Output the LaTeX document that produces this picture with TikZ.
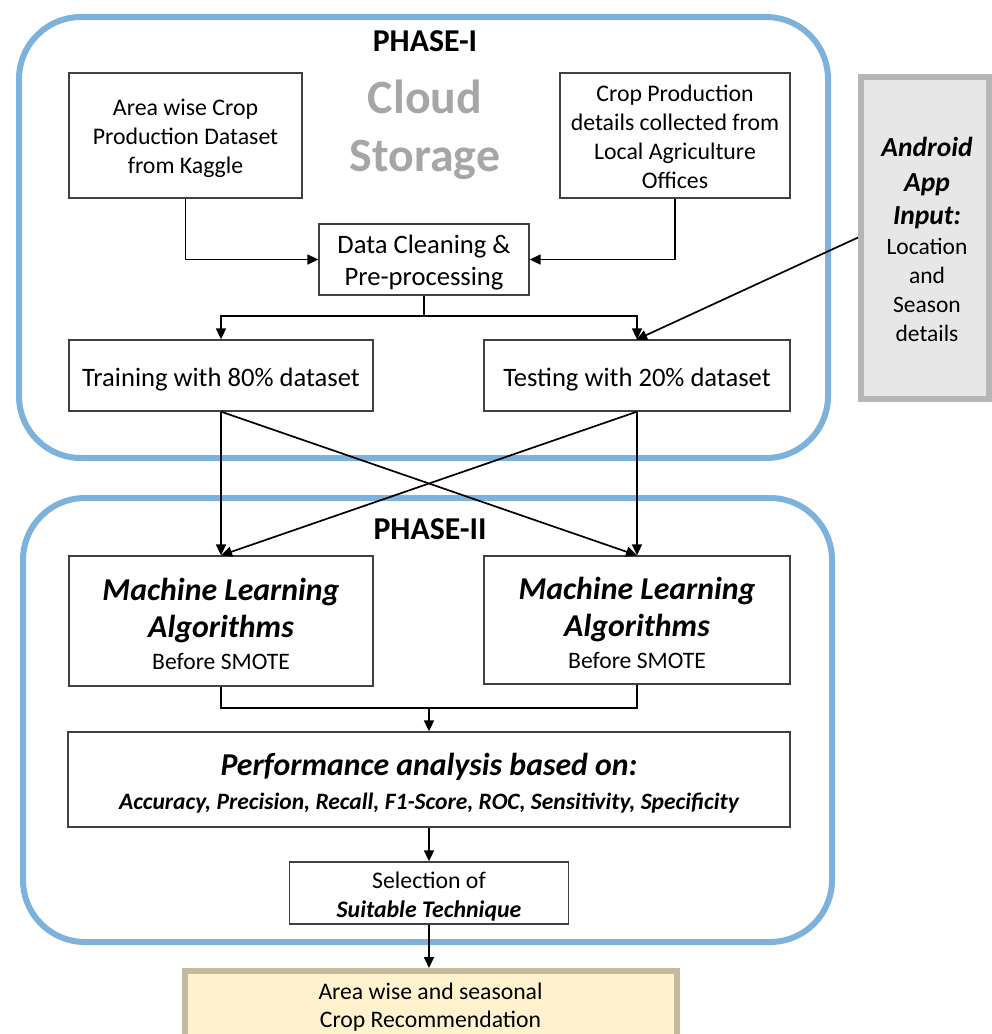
\documentclass[tikz,border=0pt]{standalone}
\usepackage{fontspec}
\setmainfont{Carlito}
\usetikzlibrary{arrows.meta}
\definecolor{phaseblue}{RGB}{124,178,220}
\definecolor{cloudgray}{RGB}{166,166,166}
\definecolor{boxline}{RGB}{64,64,64}
\definecolor{andfill}{RGB}{231,231,231}
\definecolor{andline}{RGB}{182,182,182}
\definecolor{recfill}{RGB}{255,242,204}
\definecolor{recline}{RGB}{196,186,160}
\newcommand{\fs}[2]{\fontsize{#1}{#2}\selectfont}
\newcommand{\bi}{\fs{27.5}{34}\bfseries\itshape}
\tikzset{
  box/.style={draw=boxline, line width=1.3pt, rectangle, inner sep=0pt},
  txt/.style={align=center, inner sep=0pt, text=black},
  arr/.style={line width=1.7pt, -{Triangle[length=11pt,width=10pt]}},
  ln/.style={line width=1.7pt},
  phase/.style={draw=phaseblue, line width=6pt, rounded corners=62pt},
}
\begin{document}
\begin{tikzpicture}[x=1pt,y=-1pt]
\clip (0,0) rectangle (992,1034);
\useasboundingbox (0,0) rectangle (992,1034);
% phases
\draw[phase] (19,17) rectangle (828,458);
\draw[phase] (23,498) rectangle (832,942);
\node[font=\fs{31.8}{36}\bfseries] (ph1) at (425,41) {PHASE-I};
\node[font=\fs{31.8}{36}\bfseries] (ph2) at (430,529) {PHASE-II};
\node[txt, font=\fs{47.8}{58}\bfseries, text=cloudgray] (cloud) at (425,130) {Cloud\\Storage};
% boxes
\node[box, minimum width=233pt, minimum height=125pt] (A) at (185.5,135.5) {};
\node[txt, font=\fs{23.8}{29}, yshift=-3pt] (At) at (A.center) {Area wise Crop\\Production Dataset\\from Kaggle};
\node[box, minimum width=230pt, minimum height=125pt] (B) at (675,135.5) {};
\node[txt, font=\fs{23.8}{29}, yshift=-1pt] (Bt) at (B.center) {Crop Production\\details collected from\\Local Agriculture\\Offices};
\node[box, minimum width=210pt, minimum height=71pt] (C) at (424,259.5) {};
\node[txt, font=\fs{26.6}{32}, yshift=-3pt] (Ct) at (C.center) {Data Cleaning \&\\Pre-processing};
\node[box, minimum width=304pt, minimum height=71pt] (TR) at (221,375.5) {};
\node[txt, font=\fs{26.6}{30}, yshift=-4pt] (TRt) at (TR.center) {Training with 80\% dataset};
\node[box, minimum width=306pt, minimum height=71pt] (TE) at (637,375.5) {};
\node[txt, font=\fs{26.6}{30}, yshift=-4pt] (TEt) at (TE.center) {Testing with 20\% dataset};
% android
\node[draw=andline, fill=andfill, line width=6pt, rectangle, minimum width=128pt, minimum height=322pt, inner sep=0pt] (AN) at (925,237.5) {};
\node[txt, font=\fs{23.5}{29}] (ANt) at (927,239.5) {\bi Android\\[6pt]\bi App\\[4pt]\bi Input:\\[1pt]Location\\and\\Season\\details};
% phase II boxes
\node[box, minimum width=304pt, minimum height=130pt] (M1) at (221,621) {};
\node[txt, font=\fs{31.8}{37}\bfseries\itshape, yshift=-3pt] (M1t) at (M1.center) {Machine Learning\\Algorithms\\[-5pt]\fs{23.6}{34}\normalfont Before SMOTE};
\node[box, minimum width=306pt, minimum height=128pt] (M2) at (637,620) {};
\node[txt, font=\fs{31.8}{37}\bfseries\itshape, yshift=-3pt] (M2t) at (M2.center) {Machine Learning\\Algorithms\\[-5pt]\fs{23.6}{34}\normalfont Before SMOTE};
\node[box, minimum width=722pt, minimum height=95pt] (P) at (429,779.5) {};
\node[txt, font=\fs{31.8}{36}\bfseries\itshape, yshift=-4pt] (Pt) at (P.center) {Performance analysis based on:\\[-2pt]\fs{23.5}{37}Accuracy, Precision, Recall, F1-Score, ROC, Sensitivity, Specificity};
\node[box, minimum width=279pt, minimum height=62pt] (S) at (429,893) {};
\node[txt, font=\fs{23.8}{29}, yshift=-4pt] (St) at (S.center) {Selection of\\\bfseries\itshape Suitable Technique};
\node[draw=recline, fill=recfill, line width=6pt, rectangle, minimum width=492pt, minimum height=90pt, inner sep=0pt] (R) at (430.5,1016) {};
\node[txt, font=\fs{23.7}{28.5}] (Rt) at (430.5,1007) {Area wise and seasonal\\Crop Recommendation};
% connectors
\draw[arr] (A.south) |- (C.west);
\draw[arr] (B.south) |- (C.east);
\coordinate (sp) at (424,316);
\draw[ln] (C.south) -- (sp);
\draw[arr] (sp) -| (TR.north);
\draw[arr] (sp) -| (TE.north);
\draw[arr, shorten >=-1pt] (AN.west) -- (TE.north);
\draw[arr] (TR.south) -- (M1.north);
\draw[arr] (TE.south) -- (M2.north);
\draw[arr] (TR.south) -- (M2.north);
\draw[arr] (TE.south) -- (M1.north);
\coordinate (jn) at (429,708);
\draw[ln] (M1.south) |- (jn);
\draw[ln] (M2.south) |- (jn);
\draw[arr] (jn) -- (P.north);
\draw[arr] (P.south) -- (S.north);
\draw[arr] (S.south) -- (S.south |- R.north);
\end{tikzpicture}
\end{document}
